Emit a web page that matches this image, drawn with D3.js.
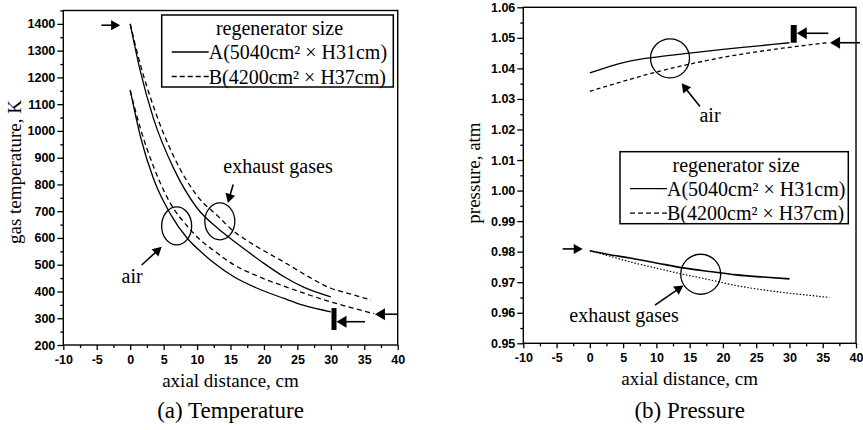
<!DOCTYPE html>
<html><head><meta charset="utf-8">
<script src="https://cdn.jsdelivr.net/npm/d3@7"></script>
<style>body{margin:0;background:#fff}svg{display:block}
.tk text{font-family:'Liberation Sans',Arial,sans-serif;font-size:12.5px;font-weight:bold;fill:#000}
</style>
</head><body>
<svg id="c" width="863" height="430"></svg>
<script>
// ---------------- data ----------------
const xTickValues = [-10,-5,0,5,10,15,20,25,30,35,40];
const tempTickValues = [200,300,400,500,600,700,800,900,1000,1100,1200,1300,1400];
const presTickValues = [0.95,0.96,0.97,0.98,0.99,1.00,1.01,1.02,1.03,1.04,1.05,1.06];

// (a) temperature, K
const tExhA_x = [0,1.5,3.5,6.5,10,13.4,15,17,20,23,26,30];
const tExhA_y = [1400,1225,1045,860,712,630,598,560,505,455,415,380];
const tExhB_x = [0,1.5,3.5,6.5,10,13.4,15,17,20,23,26,30,33,36];
const tExhB_y = [1400,1250,1090,905,758,675,635,598,552,510,465,412,390,368];
const tAirA_x = [0,1.5,3.5,6,8.5,10.5,12.5,15.5,19,23,26,30];
const tAirA_y = [1153,982,820,690,600,550,507,455,412,374,348,324];
const tAirB_x = [0,1.5,3.5,6,8.5,10.5,12.5,15.5,19,23,27,30,33,36.5];
const tAirB_y = [1150,1012,866,730,645,592,553,500,458,420,385,361,340,317];

// (b) pressure, atm
const pAirA_x = [0,3,6,10,15,20,25,30];
const pAirA_y = [1.0385,1.0407,1.0424,1.0437,1.0450,1.0462,1.0473,1.0484];
const pAirB_x = [0,3,6,10,15,20,25,30,36];
const pAirB_y = [1.0325,1.0345,1.0364,1.0388,1.0414,1.0436,1.0454,1.0469,1.0485];
const pExhA_x = [0,3,6,10,14,18,22,26,30];
const pExhA_y = [0.9803,0.9790,0.9779,0.9763,0.9747,0.9735,0.9724,0.9717,0.9711];
const pExhB_x = [0,3,6,10,14,18,22,26,30,33,36];
const pExhB_y = [0.9803,0.9785,0.9767,0.9746,0.9726,0.9708,0.9689,0.9675,0.9664,0.9657,0.9650];

const legendTitle = "regenerator size";
const legendLabels = ["A(5040cm\u00B2 \u00D7 H31cm)", "B(4200cm\u00B2 \u00D7 H37cm)"];

// ---------------- drawing ----------------
const svg = d3.select('#c');
const serif = "'Liberation Serif','Times New Roman',serif";

function zip(xs, ys){ return xs.map((v,i)=>[v,ys[i]]); }

function arrow(g, x1, y1, x2, y2, hl=9, hw=5){
  const dx=x2-x1, dy=y2-y1, L=Math.hypot(dx,dy), ux=dx/L, uy=dy/L;
  const bx=x2-ux*hl, by=y2-uy*hl;
  g.append('line').attr('x1',x1).attr('y1',y1).attr('x2',bx+ux*1).attr('y2',by+uy*1)
    .attr('stroke','#000').attr('stroke-width',1.6);
  g.append('path').attr('d',`M${x2},${y2}L${bx-uy*hw},${by+ux*hw}L${bx+uy*hw},${by-ux*hw}Z`)
    .attr('fill','#000');
}

function panel(o){
  const g = svg.append('g');
  const x = d3.scaleLinear().domain([-10,40]).range(o.xr);
  const y = d3.scaleLinear().domain(o.yd).range(o.yr);
  g.append('rect').attr('x',o.xr[0]).attr('y',o.yr[1]).attr('width',o.xr[1]-o.xr[0]).attr('height',o.yr[0]-o.yr[1])
    .attr('fill','none').attr('stroke','#000').attr('stroke-width',1.4);
  const ax = g.append('g').attr('class','tk').attr('transform',`translate(0,${o.yr[0]})`)
    .call(d3.axisBottom(x).tickValues(xTickValues).tickSize(5).tickSizeOuter(0).tickPadding(5).tickFormat(d=>String(d)));
  const axm = g.append('g').attr('class','tk').attr('transform',`translate(0,${o.yr[0]})`)
    .call(d3.axisBottom(x).tickValues(d3.range(-7.5,40,5)).tickSize(3).tickSizeOuter(0).tickFormat(''));
  const ay = g.append('g').attr('class','tk').attr('transform',`translate(${o.xr[0]},0)`)
    .call(d3.axisLeft(y).tickValues(o.yt).tickSize(6).tickSizeOuter(0).tickPadding(2).tickFormat(o.fmt));
  const aym = g.append('g').attr('class','tk').attr('transform',`translate(${o.xr[0]},0)`)
    .call(d3.axisLeft(y).tickValues(o.ym).tickSize(3).tickSizeOuter(0).tickFormat(''));
  [ax,axm,ay,aym].forEach(a=>{
    a.select('.domain').remove();
    a.selectAll('line').attr('stroke','#000').attr('stroke-width',1.3);
  });
  const line = d3.line().x(d=>x(d[0])).y(d=>y(d[1])).curve(d3.curveMonotoneX);
  o.series.forEach(s=>{
    g.append('path').attr('d',line(s.d)).attr('fill','none').attr('stroke','#000')
      .attr('stroke-width',s.w||1.3).attr('stroke-dasharray',s.dash||null);
  });
  g.append('text').attr('x',(o.xr[0]+o.xr[1])/2).attr('y',o.xlabY).attr('text-anchor','middle')
    .attr('font-family',serif).attr('font-size',19).text('axial distance, cm');
  g.append('text').attr('transform',`translate(${o.ylabX},${o.ylabY})rotate(-90)`).attr('text-anchor','middle')
    .attr('font-family',serif).attr('font-size',19).text(o.ylab);
  g.append('text').attr('x',(o.xr[0]+o.xr[1])/2).attr('y',418).attr('text-anchor','middle')
    .attr('font-family',serif).attr('font-size',23).text(o.caption);
  const L = o.leg;
  const lg = g.append('g');
  lg.append('rect').attr('x',L.x).attr('y',L.y).attr('width',L.w).attr('height',72)
    .attr('fill','#fff').attr('stroke','#000').attr('stroke-width',1.5);
  lg.append('text').attr('x',L.x+L.w/2+2).attr('y',L.y+20).attr('text-anchor','middle')
    .attr('font-family',serif).attr('font-size',20).text(legendTitle);
  legendLabels.forEach((t,i)=>{
    const by = L.y+44+i*24.5;
    lg.append('line').attr('x1',L.x+10).attr('x2',L.x+47).attr('y1',by-7).attr('y2',by-7)
      .attr('stroke','#000').attr('stroke-width',1.3).attr('stroke-dasharray',i? '5,3':null);
    lg.append('text').attr('x',L.x+47).attr('y',by).attr('font-family',serif).attr('font-size',20).text(t);
  });
  return {g,x,y};
}

// ---- panel (a) ----
const A = panel({
  xr:[63.3,397.7], yd:[200,1450], yr:[345,10.5], yt:tempTickValues,
  ym:d3.range(250,1451,100), fmt:d3.format('d'),
  ylab:'gas temperature, K', ylabX:21, ylabY:172, xlabY:387, caption:'(a) Temperature',
  leg:{x:161.7,y:15,w:231.6},
  series:[
    {d:zip(tExhA_x,tExhA_y)},
    {d:zip(tExhB_x,tExhB_y),dash:'5,3.5'},
    {d:zip(tAirA_x,tAirA_y)},
    {d:zip(tAirB_x,tAirB_y),dash:'5,3.5'}
  ]
});
{
  const {g,x,y} = A;
  arrow(g, x(-4.3), y(1395), x(-1.5), y(1395));
  g.append('rect').attr('x',x(30.1)).attr('y',y(338)).attr('width',x(30.85)-x(30.1)).attr('height',y(256)-y(338)).attr('fill','#000');
  arrow(g, x(35.1), y(287), x(30.85), y(287), 10, 6);
  arrow(g, x(40), y(315), x(36.6), y(315), 10, 6);
  g.append('ellipse').attr('cx',x(6.95)).attr('cy',y(645)).attr('rx',15).attr('ry',19)
    .attr('fill','none').attr('stroke','#000').attr('stroke-width',1.3);
  g.append('ellipse').attr('cx',x(13.4)).attr('cy',y(662)).attr('rx',15).attr('ry',18.5)
    .attr('fill','none').attr('stroke','#000').attr('stroke-width',1.3);
  g.append('text').attr('x',x(22.1)).attr('y',y(843)).attr('text-anchor','middle')
    .attr('font-family',serif).attr('font-size',20).text('exhaust gases');
  arrow(g, x(15.4), y(800), x(14.6), y(731));
  g.append('text').attr('x',x(0.28)).attr('y',y(432)).attr('text-anchor','middle')
    .attr('font-family',serif).attr('font-size',20).text('air');
  arrow(g, x(1.72), y(499), x(4.71), y(567));
}

// ---- panel (b) ----
const B = panel({
  xr:[523.3,856], yd:[0.95,1.06], yr:[343.3,7.3], yt:presTickValues,
  ym:d3.range(0.955,1.06,0.01), fmt:d3.format('.2f'),
  ylab:'pressure, atm', ylabX:480, ylabY:173, xlabY:385, caption:'(b) Pressure',
  leg:{x:620,y:151.7,w:228.3},
  series:[
    {d:zip(pAirA_x,pAirA_y)},
    {d:zip(pAirB_x,pAirB_y),dash:'4,3'},
    {d:zip(pExhA_x,pExhA_y),w:1.6},
    {d:zip(pExhB_x,pExhB_y),dash:'1.5,1.8',w:1.2}
  ]
});
{
  const {g,x,y} = B;
  g.append('circle').attr('cx',x(12.05)).attr('cy',y(1.0433)).attr('r',19.5)
    .attr('fill','none').attr('stroke','#000').attr('stroke-width',1.3);
  g.append('circle').attr('cx',x(16.66)).attr('cy',y(0.9726)).attr('r',20)
    .attr('fill','none').attr('stroke','#000').attr('stroke-width',1.3);
  g.append('text').attr('x',x(18.06)).attr('y',y(1.0225)).attr('text-anchor','middle')
    .attr('font-family',serif).attr('font-size',20).text('air');
  arrow(g, x(16.55), y(1.0275), x(13.8), y(1.0351));
  g.append('rect').attr('x',x(30.19)).attr('y',y(1.0542)).attr('width',x(31.09)-x(30.19)).attr('height',y(1.0484)-y(1.0542)).attr('fill','#000');
  arrow(g, x(35.84), y(1.0515), x(31.1), y(1.0515), 10, 6);
  arrow(g, x(40.6), y(1.0484), x(36.1), y(1.0484), 10, 6);
  g.append('text').attr('x',x(5.13)).attr('y',y(0.9569)).attr('text-anchor','middle')
    .attr('font-family',serif).attr('font-size',20).text('exhaust gases');
  arrow(g, x(9.79), y(0.9625), x(14.05), y(0.9689));
  arrow(g, x(-4.08), y(0.9809), x(-1.07), y(0.9809));
}
</script>
</body></html>
